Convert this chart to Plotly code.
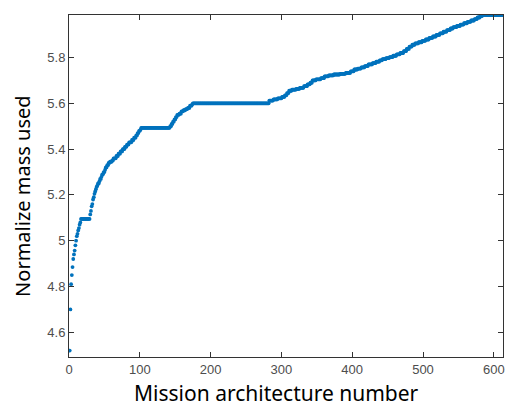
import plotly.graph_objects as go

# Sorted normalized mass values, given as step levels with run lengths
early_values = [4.52, 4.70, 4.81, 4.85, 4.885, 4.92, 4.94, 4.957, 4.98, 5.00,
                5.02, 5.03, 5.045, 5.055, 5.07, 5.08]

step_levels = [
    5.095,
    5.115, 5.13, 5.15, 5.16, 5.18, 5.19, 5.205, 5.215, 5.225, 5.235, 5.24,
    5.25, 5.26, 5.27, 5.28, 5.29, 5.30, 5.31, 5.32, 5.33, 5.34, 5.345, 5.35,
    5.36, 5.37, 5.38, 5.39, 5.40, 5.41, 5.42, 5.43, 5.44, 5.45, 5.46, 5.47,
    5.48, 5.485,
    5.493,
    5.50, 5.51, 5.52, 5.53, 5.54, 5.55, 5.555, 5.565, 5.57, 5.575, 5.58, 5.59, 5.595,
    5.60,
    5.612, 5.617, 5.622, 5.628, 5.635, 5.645, 5.655, 5.66, 5.663, 5.668, 5.675,
    5.683, 5.69, 5.70, 5.705, 5.71, 5.718, 5.722, 5.726,
    5.729, 5.733, 5.74, 5.748, 5.752, 5.757, 5.763, 5.77, 5.776, 5.782, 5.788,
    5.793, 5.798, 5.802, 5.808, 5.814, 5.82, 5.828, 5.838, 5.848, 5.856, 5.862,
    5.867, 5.873, 5.879, 5.886, 5.892, 5.899, 5.906, 5.913, 5.92, 5.927, 5.933,
    5.938, 5.944, 5.95, 5.956, 5.962, 5.968, 5.975, 5.981,
    5.986,
]
step_counts = [
    13,
    1, 1, 1, 1, 1, 1, 1, 1, 1, 1, 1,
    2, 1, 2, 1, 2, 2, 1, 2, 2, 2, 3, 2,
    4, 3, 3, 3, 3, 3, 3, 4, 3, 3, 2, 2,
    2, 1,
    41,
    2, 2, 2, 2, 2, 3, 3, 3, 3, 3, 3, 3, 1,
    108,
    6, 6, 6, 4, 3, 3, 4, 6, 5, 6, 5,
    4, 3, 5, 7, 5, 6, 7, 9,
    8, 7, 5, 5, 5, 5, 5, 6, 5, 5, 4,
    5, 5, 5, 5, 5, 5, 4, 4, 4, 4, 5,
    5, 5, 5, 5, 5, 5, 5, 5, 5, 4, 5,
    5, 5, 5, 5, 5, 4, 4, 3,
    30,
]

mass = list(early_values)
for lvl, cnt in zip(step_levels, step_counts):
    mass.extend([lvl] * cnt)
arch = list(range(1, len(mass) + 1))

x_ticks = [0, 100, 200, 300, 400, 500, 600]
y_ticks = [4.6, 4.8, 5.0, 5.2, 5.4, 5.6, 5.8]
y_tick_text = ["4.6", "4.8", "5", "5.2", "5.4", "5.6", "5.8"]

fig = go.Figure(go.Scatter(
    x=arch, y=mass, mode="markers",
    marker=dict(color="#0072BD", size=3.8, line=dict(width=0)),
    showlegend=False,
))

axis_common = dict(
    showgrid=False, zeroline=False, showline=True, linecolor="#333333", linewidth=1,
    mirror="ticks", ticks="inside", ticklen=5, tickcolor="#333333", automargin=False,
    ticklabeloverflow="allow",
    tickfont=dict(family="Liberation Sans, Arial", size=13, color="#4d4d4d"),
)

fig.update_layout(
    width=510, height=408,
    margin=dict(l=69, r=7, t=15, b=51),
    paper_bgcolor="white", plot_bgcolor="white",
    xaxis=dict(range=[0, 613], tickvals=x_ticks, **axis_common),
    yaxis=dict(range=[4.492, 5.986], tickvals=y_ticks, ticktext=y_tick_text, **axis_common),
    annotations=[
        dict(text="Mission architecture number", xref="paper", yref="paper",
             x=0.479, y=-0.105, xanchor="center", yanchor="middle", showarrow=False,
             font=dict(family="Noto Sans", size=21, color="black")),
        dict(text="Normalize mass used", xref="paper", yref="paper",
             x=-0.106, y=0.471, xanchor="center", yanchor="middle", showarrow=False,
             textangle=-90, font=dict(family="Noto Sans", size=20, color="black")),
    ],
)

fig.write_html(
    "out.html",
    config={"displayModeBar": False},
    post_script="document.body.style.margin='0';document.body.style.overflow='hidden';",
)
